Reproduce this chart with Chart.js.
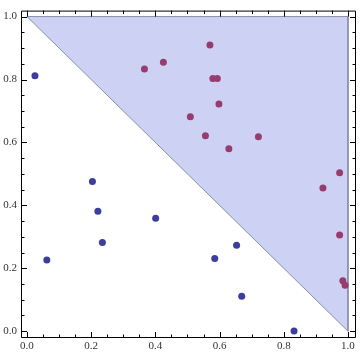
<!DOCTYPE html>
<html>
<head>
<meta charset="utf-8">
<script src="https://cdn.jsdelivr.net/npm/chart.js@4"></script>
<style>
  html, body { margin: 0; padding: 0; background: #fff; }
  #wrap { width: 360px; height: 354px; }
</style>
</head>
<body>
<div id="wrap"><canvas id="c" width="360" height="354"></canvas></div>
<script>
// points below the line x + y = 1
const belowX = [0.025, 0.204, 0.221, 0.235, 0.062, 0.401, 0.585, 0.653, 0.669, 0.832];
const belowY = [0.812, 0.476, 0.381, 0.282, 0.226, 0.359, 0.231, 0.273, 0.111, 0.001];

// points above the line
const aboveX = [0.366, 0.425, 0.570, 0.579, 0.593, 0.598, 0.509, 0.556, 0.721, 0.629, 0.974, 0.922, 0.974, 0.984, 0.991];
const aboveY = [0.833, 0.855, 0.910, 0.803, 0.803, 0.722, 0.682, 0.621, 0.618, 0.580, 0.504, 0.455, 0.306, 0.160, 0.146];

// shaded region corners
const regionX = [0, 1, 1, 0];
const regionY = [1, 1, 0, 1];

// tick values (every 0.05, labelled every 0.2)
const tickValues = [0, 0.05, 0.1, 0.15, 0.2, 0.25, 0.3, 0.35, 0.4, 0.45, 0.5,
  0.55, 0.6, 0.65, 0.7, 0.75, 0.8, 0.85, 0.9, 0.95, 1.0];
const labelValues = [0, 0.2, 0.4, 0.6, 0.8, 1.0];

const toPoints = (xs, ys) => xs.map((x, i) => ({ x: x, y: ys[i] }));
const isLabel = (v) => labelValues.some((l) => Math.abs(l - v) < 1e-6);

// Mathematica style frame with inward ticks on all four sides
const frameTicks = {
  id: "frameTicks",
  afterDraw(chart) {
    const ctx = chart.ctx;
    const a = chart.chartArea;
    const xs = chart.scales.x;
    const ys = chart.scales.y;
    ctx.save();
    ctx.strokeStyle = "#000";
    ctx.lineWidth = 1;
    ctx.beginPath();
    ctx.rect(a.left + 0.5, a.top + 0.5, a.right - a.left - 1, a.bottom - a.top - 1);
    tickValues.forEach((v) => {
      const len = isLabel(v) ? 6 : 3.5;
      const px = Math.round(xs.getPixelForValue(v)) + 0.5;
      ctx.moveTo(px, a.bottom);
      ctx.lineTo(px, a.bottom - len);
      ctx.moveTo(px, a.top);
      ctx.lineTo(px, a.top + len);
      const py = Math.round(ys.getPixelForValue(v)) + 0.5;
      ctx.moveTo(a.left, py);
      ctx.lineTo(a.left + len, py);
      ctx.moveTo(a.right, py);
      ctx.lineTo(a.right - len, py);
    });
    ctx.stroke();
    ctx.restore();
  },
};

const tickFont = { family: "Liberation Serif", size: 11 };

new Chart(document.getElementById("c"), {
  type: "scatter",
  data: {
    datasets: [
      {
        data: toPoints(regionX, regionY),
        showLine: true,
        fill: "shape",
        backgroundColor: "rgba(205, 210, 245, 1)",
        borderColor: "#8a8ea6",
        borderWidth: 1,
        pointRadius: 0,
        tension: 0,
        order: 3,
      },
      {
        data: toPoints(belowX, belowY),
        backgroundColor: "#3b3e9c",
        borderColor: "#3b3e9c",
        pointRadius: 3.5,
        borderWidth: 0,
        order: 1,
      },
      {
        data: toPoints(aboveX, aboveY),
        backgroundColor: "#983c70",
        borderColor: "#983c70",
        pointRadius: 3.5,
        borderWidth: 0,
        order: 1,
      },
    ],
  },
  options: {
    responsive: false,
    animation: false,
    layout: { padding: { top: 1, right: 1, left: 0, bottom: 0 } },
    plugins: {
      legend: { display: false },
      tooltip: { enabled: false },
    },
    scales: {
      x: {
        type: "linear",
        min: -0.0185,
        max: 1.025,
        grid: { display: false, drawTicks: false },
        border: { display: false },
        afterBuildTicks: (s) => { s.ticks = tickValues.map((v) => ({ value: v })); },
        afterFit: (s) => { s.height = 16; },
        ticks: {
          autoSkip: false,
          maxRotation: 0,
          padding: 2,
          color: "#333",
          font: tickFont,
          callback: (v) => (isLabel(v) ? v.toFixed(1) : ""),
        },
      },
      y: {
        type: "linear",
        min: -0.0216,
        max: 1.019,
        grid: { display: false, drawTicks: false },
        border: { display: false },
        afterBuildTicks: (s) => { s.ticks = tickValues.map((v) => ({ value: v })); },
        afterFit: (s) => { s.width = 21; },
        ticks: {
          autoSkip: false,
          padding: 4,
          color: "#333",
          font: tickFont,
          callback: (v) => (isLabel(v) ? v.toFixed(1) : ""),
        },
      },
    },
  },
  plugins: [frameTicks],
});
</script>
</body>
</html>
